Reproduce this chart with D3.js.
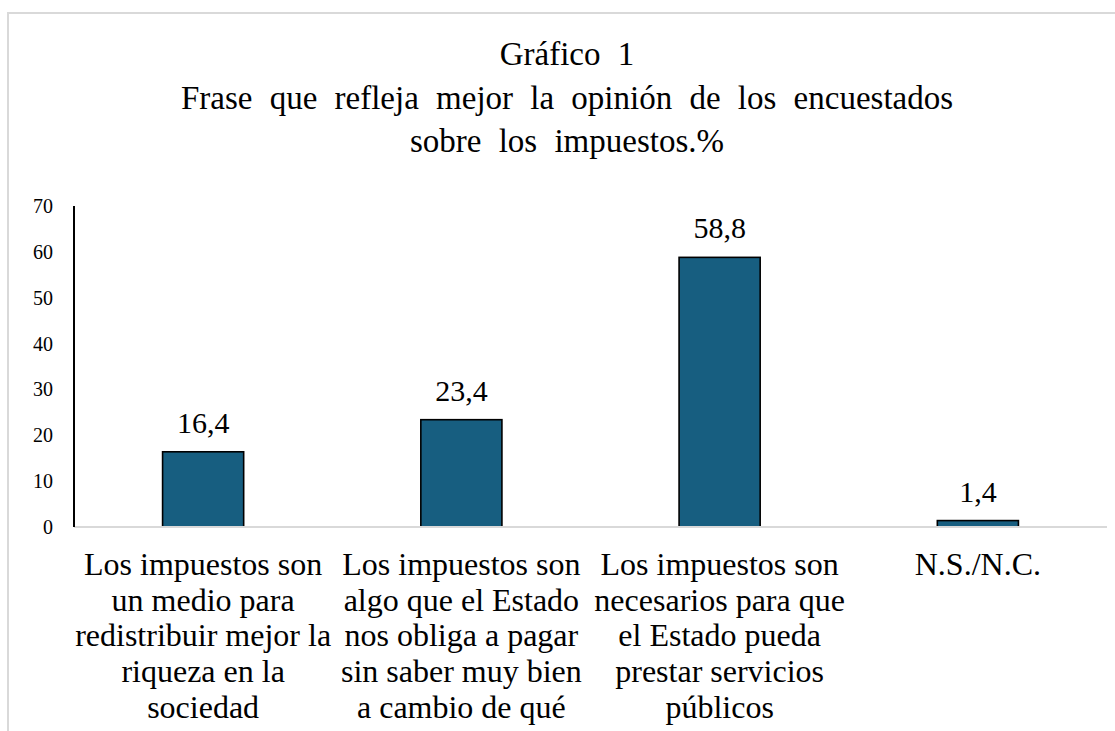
<!DOCTYPE html>
<html>
<head>
<meta charset="utf-8">
<script src="https://cdn.jsdelivr.net/npm/d3@7"></script>
<style>
  body { margin: 0; background: #fff; }
  text { fill: #000; }
</style>
</head>
<body>
<svg id="chart" width="1115" height="731"></svg>
<script>
const titleLines = ["Gráfico 1", "Frase que refleja mejor la opinión de los encuestados", "sobre los impuestos.%"];
const categories = [
  ["Los impuestos son", "un medio para", "redistribuir mejor la", "riqueza en la", "sociedad"],
  ["Los impuestos son", "algo que el Estado", "nos obliga a pagar", "sin saber muy bien", "a cambio de qué"],
  ["Los impuestos son", "necesarios para que", "el Estado pueda", "prestar servicios", "públicos"],
  ["N.S./N.C."]
];
const values = [16.4, 23.4, 58.8, 1.4];
const yTicks = [0, 10, 20, 30, 40, 50, 60, 70];

const svg = d3.select("#chart")
  .style("font-family", '"Liberation Serif", "Times New Roman", serif');

// chart area border (runs past the picture edge)
svg.append("rect")
  .attr("x", 8).attr("y", 13)
  .attr("width", 1120).attr("height", 740)
  .attr("fill", "none")
  .attr("stroke", "#d9d9d9")
  .attr("stroke-width", 2);

// title
svg.append("g").selectAll("text")
  .data(titleLines)
  .join("text")
  .attr("x", 567)
  .attr("y", (d, i) => 65 + i * 43.5)
  .attr("text-anchor", "middle")
  .style("font-size", "33px")
  .style("word-spacing", "9px")
  .text(d => d);

const plot = { left: 74, right: 1107, top: 206, bottom: 527 };

const x = d3.scaleBand()
  .domain(d3.range(values.length))
  .range([plot.left, plot.right])
  .paddingInner(0.686)
  .paddingOuter(0.343);

const y = d3.scaleLinear()
  .domain([0, 70])
  .range([plot.bottom, plot.top]);

// y tick labels (no tick marks)
svg.append("g").selectAll("text")
  .data(yTicks)
  .join("text")
  .attr("x", 53)
  .attr("y", d => y(d))
  .attr("dy", "0.35em")
  .attr("text-anchor", "end")
  .style("font-size", "20px")
  .text(d => d);

// bars
svg.append("g").selectAll("rect")
  .data(values)
  .join("rect")
  .attr("x", (d, i) => x(i))
  .attr("y", d => y(d))
  .attr("width", x.bandwidth())
  .attr("height", d => y(0) - y(d))
  .attr("fill", "#175e80")
  .attr("stroke", "#000")
  .attr("stroke-width", 1.6);

// baseline
svg.append("line")
  .attr("x1", plot.left).attr("x2", plot.right)
  .attr("y1", y(0)).attr("y2", y(0))
  .attr("stroke", "#d9d9d9")
  .attr("stroke-width", 2);

// y axis line
svg.append("line")
  .attr("x1", plot.left).attr("x2", plot.left)
  .attr("y1", y(70)).attr("y2", y(0))
  .attr("stroke", "#000")
  .attr("stroke-width", 2);

// value labels
svg.append("g").selectAll("text")
  .data(values)
  .join("text")
  .attr("x", (d, i) => x(i) + x.bandwidth() / 2)
  .attr("y", d => y(d) - 19)
  .attr("text-anchor", "middle")
  .style("font-size", "30px")
  .text(d => d.toFixed(1).replace(".", ","));

// category labels
const catG = svg.append("g").selectAll("text")
  .data(categories)
  .join("text")
  .attr("text-anchor", "middle")
  .style("font-size", "32px");

catG.selectAll("tspan")
  .data((d, i) => d.map(line => ({ line, i })))
  .join("tspan")
  .attr("x", d => x(d.i) + x.bandwidth() / 2)
  .attr("y", (d, j) => 575 + j * 35.7)
  .text(d => d.line);
</script>
</body>
</html>
